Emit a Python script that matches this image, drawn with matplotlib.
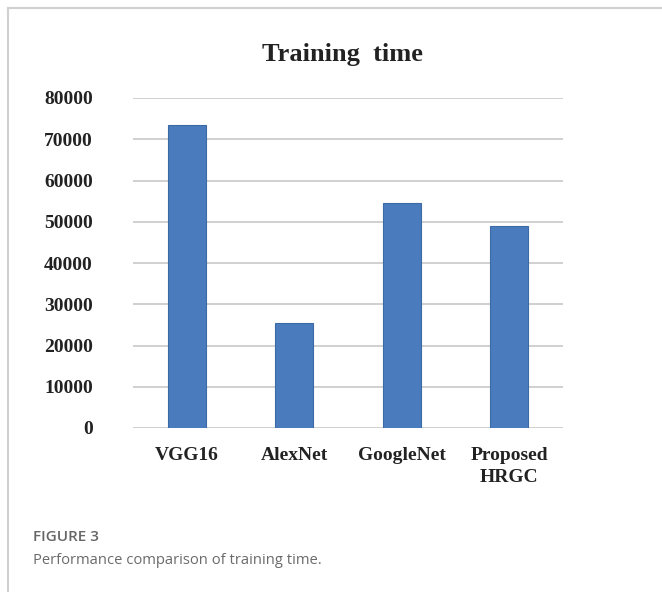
import matplotlib.pyplot as plt
from matplotlib.lines import Line2D

# data
models = ['VGG16', 'AlexNet', 'GoogleNet', 'Proposed\nHRGC']
train_time = [73500, 25500, 54500, 49000]
yticks = [0, 10000, 20000, 30000, 40000, 50000, 60000, 70000, 80000]

fig = plt.figure(figsize=(6.62, 5.92), dpi=100)

# outer frame of the figure panel
fig.add_artist(Line2D([8/662, 8/662], [0, 1 - 8/592], color='#d0d0d0', lw=1.5))
fig.add_artist(Line2D([8/662, 1], [1 - 8/592, 1 - 8/592], color='#d0d0d0', lw=1.5))

ax = fig.add_axes([133/662, 1 - 428/592, 430/662, 330/592])
ax.bar(range(len(models)), train_time, width=0.35, color='#4a7bbd',
       edgecolor='#3b6aa6', linewidth=0.8, zorder=3)
ax.set_ylim(0, 80000)
ax.set_xlim(-0.5, len(models) - 0.5)
ax.set_yticks(yticks)
ax.set_yticklabels([str(v) for v in yticks], fontfamily='Liberation Serif',
                   fontweight='bold', fontsize=14, color='#222222')
ax.set_xticks(range(len(models)))
ax.set_xticklabels(models, fontfamily='Liberation Serif', fontweight='bold',
                   fontsize=14, color='#222222', linespacing=1.35)
ax.yaxis.grid(True, color='#c8c8c8', lw=1.2, zorder=0)
ax.tick_params(length=0)
ax.tick_params(axis='y', pad=29)
ax.tick_params(axis='x', pad=14)
for s in ax.spines.values():
    s.set_visible(False)

fig.text(342/662, 1 - 55/592, 'Training  time', ha='center', va='center',
         fontfamily='Liberation Serif', fontweight='bold', fontsize=19, color='#222222')

fig.text(33/662, 1 - 537/592, 'FIGURE 3', ha='left', va='center',
         fontfamily='Open Sans', fontsize=11, color='#666666', fontweight='semibold')
fig.text(33/662, 1 - 560/592, 'Performance comparison of training time.', ha='left',
         va='center', fontfamily='Open Sans', fontsize=10.6, color='#6a6a6a')

fig.savefig('out.png', dpi=100)
